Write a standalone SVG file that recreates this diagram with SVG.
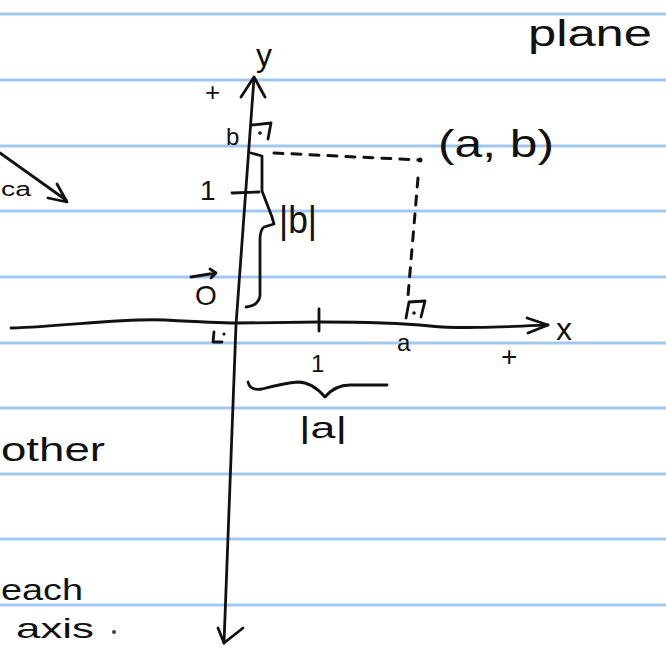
<svg xmlns="http://www.w3.org/2000/svg" width="666" height="649" viewBox="0 0 666 649">
<style>
.rule{stroke:#a3c8ef;stroke-width:3;fill:none}
.ink{stroke:#111;stroke-width:2.8;fill:none;stroke-linecap:round;stroke-linejoin:round}
.dash{stroke:#111;stroke-width:3;fill:none;stroke-dasharray:9 9;stroke-linecap:round}
.t{font-family:"Liberation Sans","DejaVu Sans",sans-serif;fill:#111}
</style>
<rect width="666" height="649" fill="#fff"/>
<g id="ruled-lines">
<line class="rule" x1="0" y1="14" x2="666" y2="14"/>
<line class="rule" x1="0" y1="80" x2="666" y2="80"/>
<line class="rule" x1="0" y1="146" x2="666" y2="146"/>
<line class="rule" x1="0" y1="211" x2="666" y2="211"/>
<line class="rule" x1="0" y1="277" x2="666" y2="277"/>
<line class="rule" x1="0" y1="343" x2="666" y2="343"/>
<line class="rule" x1="0" y1="408" x2="666" y2="408"/>
<line class="rule" x1="0" y1="474" x2="666" y2="474"/>
<line class="rule" x1="0" y1="539" x2="666" y2="539"/>
<line class="rule" x1="0" y1="605" x2="666" y2="605"/>
</g>
<g id="axes">
<path class="ink" d="M11 328 C70 326 120 318 165 320 C200 322 220 323 237 323 L320 322 C360 322 400 323 430 326 C460 329 500 327 548 325"/>
<path class="ink" d="M527 318 L548 325 L528 333"/>
<path class="ink" d="M254 78 L236 325 L224 643"/>
<path class="ink" d="M241 97 L254 77 L265 97"/>
<path class="ink" d="M218 628 L224 643 L243 628"/>
</g>
<g id="ticks">
<line class="ink" x1="319" y1="309" x2="319" y2="331"/>
<line class="ink" x1="232" y1="193" x2="259" y2="192"/>
</g>
<g id="right-angles">
<path class="ink" d="M252 125 L271 123 L268 139"/>
<circle cx="260" cy="133" r="1.8" fill="#111"/>
<path class="ink" d="M406 318 L409 302 L425 301 L421 317"/>
<circle cx="414" cy="313" r="1.8" fill="#111"/>
<path class="ink" d="M214 332 L213 342 L222 342"/>
<circle cx="224" cy="334" r="1.6" fill="#111"/>
</g>
<g id="projections">
<path class="dash" d="M274 153 L420 160"/>
<path class="dash" d="M418 178 L408 296"/>
<circle cx="420" cy="160" r="2.5" fill="#111"/>
</g>
<g id="braces">
<path class="ink" d="M251 153 L262 156 L262 191 L272 217 L274 224 L264 227 Q260 230 260 240 L260 296 Q258 306 246 307"/>
<path class="ink" d="M248 382 Q250 391 262 389 Q285 383 298 382 Q312 382 325 397 Q335 385 350 385 L387 385"/>
</g>
<g id="left-arrow">
<path class="ink" d="M0 153 L66 200"/>
<path class="ink" d="M48 198 L67 202 L57 184"/>
</g>
<g id="labels">
<text class="t" x="528" y="46" font-size="36" textLength="124" lengthAdjust="spacingAndGlyphs">plane</text>
<text class="t" x="256" y="66" font-size="32">y</text>
<text class="t" x="205" y="101" font-size="26">+</text>
<text class="t" x="226" y="145" font-size="24">b</text>
<text class="t" x="200" y="200" font-size="28">1</text>
<text class="t" x="438" y="157" font-size="38" textLength="116" lengthAdjust="spacingAndGlyphs">(a, b)</text>
<text class="t" x="279" y="233" font-size="38" textLength="38" lengthAdjust="spacingAndGlyphs">|b|</text>
<text class="t" x="195" y="305" font-size="28">O</text>
<path class="ink" d="M191 277 L216 273 M210 269 L216 273 L211 278"/>
<text class="t" x="556" y="340" font-size="32">x</text>
<text class="t" x="397" y="351" font-size="24">a</text>
<text class="t" x="501" y="366" font-size="28">+</text>
<text class="t" x="311" y="372" font-size="24">1</text>
<text class="t" x="299" y="438" font-size="30" textLength="48" lengthAdjust="spacingAndGlyphs">|a|</text>
<text class="t" x="1" y="196" font-size="20" textLength="30" lengthAdjust="spacingAndGlyphs">ca</text>
<text class="t" x="1" y="461" font-size="34" textLength="104" lengthAdjust="spacingAndGlyphs">other</text>
<text class="t" x="1" y="600" font-size="30" textLength="82" lengthAdjust="spacingAndGlyphs">each</text>
<text class="t" x="16" y="638" font-size="28" textLength="78" lengthAdjust="spacingAndGlyphs">axis</text>
<circle cx="114" cy="632" r="2" fill="#444"/>
</g>
</svg>
